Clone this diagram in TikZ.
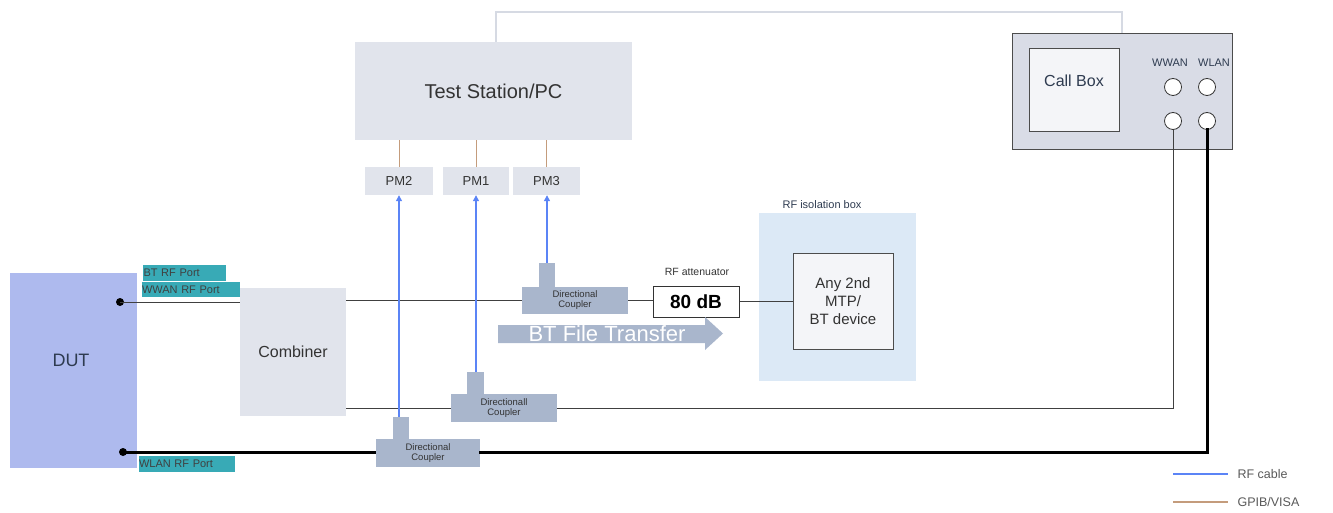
\documentclass[tikz,border=0pt]{standalone}
\usepackage{fontspec}
\setmainfont{Liberation Sans}
\usetikzlibrary{arrows.meta}
\definecolor{boxgray}{HTML}{E1E4EC}
\definecolor{cplr}{HTML}{A9B6CC}
\definecolor{dutblue}{HTML}{AEBAEE}
\definecolor{teal}{HTML}{38AAB6}
\definecolor{isoblue}{HTML}{DCE9F6}
\definecolor{cbgray}{HTML}{D9DCE6}
\definecolor{cbinner}{HTML}{F4F5F8}
\definecolor{gpib}{HTML}{C49C7C}
\definecolor{rfblue}{HTML}{5B84F6}
\definecolor{txt}{HTML}{333333}
\definecolor{slate}{HTML}{2E3B50}
\definecolor{toplink}{HTML}{D6DAE3}
\tikzset{
  graybox/.style={fill=boxgray, draw=none, inner sep=0pt, text=txt},
  cpbody/.style={fill=cplr, draw=none, inner sep=0pt, align=center, font=\fontsize{9.5}{10}\selectfont, text=black!80},
  cpstub/.style={fill=cplr, draw=none, inner sep=0pt},
  portlbl/.style={fill=teal, draw=none, inner sep=0pt, font=\fontsize{11}{11}\selectfont, text=black!75, text depth=0pt},
  cable/.style={draw=black!75, line width=0.8pt},
  thickcable/.style={draw=black, line width=3pt},
  gpibline/.style={draw=gpib, line width=1pt},
  rfline/.style={draw=rfblue, line width=1.2pt, -{Triangle[length=6pt,width=6pt]}},
  port/.style={circle, draw=black!80, fill=white, line width=0.8pt, minimum size=17pt, inner sep=0pt},
}
\begin{document}
\begin{tikzpicture}[x=1pt,y=-1pt]
\useasboundingbox (0,0) rectangle (1333,513);
% boxes
\node[graybox, minimum width=277pt, minimum height=98pt, font=\fontsize{20}{22}\selectfont] (ts) at (493.5,91) {Test Station/PC};
\node[graybox, minimum width=68pt, minimum height=28pt, font=\fontsize{13}{13}\selectfont] (pm2) at (399,181) {PM2};
\node[graybox, minimum width=66pt, minimum height=28pt, font=\fontsize{13}{13}\selectfont] (pm1) at (476,181) {PM1};
\node[graybox, minimum width=67pt, minimum height=28pt, font=\fontsize{13}{13}\selectfont] (pm3) at (546.5,181) {PM3};
\node[graybox, minimum width=106pt, minimum height=128pt, font=\fontsize{16}{18}\selectfont] (comb) at (293,352) {Combiner};
\node[fill=dutblue, draw=none, minimum width=127pt, minimum height=195pt, inner sep=0pt] (dut) at (73.5,370.5) {};
\node[text=slate, font=\fontsize{18}{18}\selectfont] (duttxt) at (71,360) {DUT};
% isolation box
\node[fill=isoblue, draw=none, minimum width=157pt, minimum height=168pt, inner sep=0pt] (iso) at (837.5,297) {};
\node[text=slate, font=\fontsize{11}{12}\selectfont] (isolbl) at (822,205) {RF isolation box};
\node[fill=cbinner, draw=black!70, line width=1pt, minimum width=100pt, minimum height=96pt, inner sep=0pt, align=center, font=\fontsize{15}{18}\selectfont, text=txt] (dev) at (843,301) {Any 2nd\\MTP/\\BT device};
% attenuator
\node[fill=white, draw=black!80, line width=1pt, minimum width=86pt, minimum height=31pt, inner sep=0pt, font=\bfseries\fontsize{19}{20}\selectfont] (att) at (696,301.5) {80 dB};
\node[text=txt, font=\fontsize{10.5}{11}\selectfont] (attlbl) at (697,272) {RF attenuator};
% BT file transfer arrow
\fill[cplr] (498,325) -- (705,325) -- (705,317) -- (723,333.5) -- (705,350) -- (705,343) -- (498,343) -- cycle;
\node[text=white, font=\fontsize{22}{22}\selectfont] (bttxt) at (607,334) {BT File Transfer};
% couplers
\node[cpbody, minimum width=106pt, minimum height=27pt] (c3) at (575,300.5) {Directional\\Coupler};
\node[cpstub, minimum width=16pt, minimum height=24pt] (c3s) at (547,275) {};
\node[cpbody, minimum width=106pt, minimum height=28pt] (c1) at (504,408) {Directionall\\Coupler};
\node[cpstub, minimum width=17pt, minimum height=22pt] (c1s) at (475.5,383) {};
\node[cpbody, minimum width=104pt, minimum height=28pt] (c2) at (428,453) {Directional\\Coupler};
\node[cpstub, minimum width=16pt, minimum height=22pt] (c2s) at (401,428) {};
% port labels
\node[portlbl, minimum width=83pt, minimum height=16pt, text width=82pt, align=left] (btp) at (184.5,273) {BT RF Port};
\node[portlbl, minimum width=98pt, minimum height=15pt, text width=98pt, align=left] (wwp) at (191,289.5) {WWAN RF Port};
\node[portlbl, minimum width=96pt, minimum height=16pt, text width=96pt, align=left] (wlp) at (187,464) {WLAN RF Port};
% call box
\node[fill=cbgray, draw=black!70, line width=1pt, minimum width=220pt, minimum height=116pt, inner sep=0pt] (cb) at (1122,92) {};
\node[fill=cbinner, draw=black!70, line width=1pt, minimum width=90pt, minimum height=83pt, inner sep=0pt] (cbs) at (1074.5,90.5) {};
\node[text=slate, font=\fontsize{16}{16}\selectfont] (cbtxt) at (1074,81) {Call Box};
\node[text=slate, font=\fontsize{11}{11}\selectfont, inner sep=0pt] (wwl) at (1170,63) {WWAN};
\node[text=slate, font=\fontsize{11}{11}\selectfont, inner sep=0pt] (wll) at (1214,63) {WLAN};
\node[port] (p1) at (1173,87) {};
\node[port] (p2) at (1207,87) {};
\node[port] (p3) at (1173,121) {};
\node[port] (p4) at (1207,121) {};
% DUT dots
\fill[black] (120,302) circle (4pt) coordinate (d1);
\fill[black] (123,452) circle (4pt) coordinate (d2);
% top link
\coordinate (tl1) at (496,12);
\coordinate (tl2) at (1122,12);
\draw[toplink, line width=1.2pt] (ts.north -| tl1) -- (tl1) -- (tl2) -- (cb.north);
% cables
\draw[cable] (d1) -- (comb.west |- d1);
\draw[cable] (comb.east |- c3) -- (c3.west);
\draw[cable] (c3.east) -- (att.west |- c3);
\draw[cable] (att.east) -- (dev.west |- att);
\coordinate (wwc) at (1173,408);
\draw[cable] (comb.east |- c1) -- (c1.west);
\draw[cable] (c1.east) -- (wwc) -- (p3.south);
\coordinate (wlc) at (1207,452);
\draw[thickcable] (d2) -- (c2.west |- d2);
\draw[thickcable, line cap=rect] (c2.east |- wlc) -- (wlc) -- (p4.south);
% GPIB lines
\draw[gpibline] (ts.south -| pm2) -- (pm2.north);
\draw[gpibline] (ts.south -| pm1) -- (pm1.north);
\draw[gpibline] (ts.south -| pm3) -- (pm3.north);
% RF lines
\draw[rfline] (c2s.north -| pm2) -- (pm2.south);
\draw[rfline] (c1s.north -| pm1) -- (pm1.south);
\draw[rfline] (c3s.north) -- (pm3.south -| c3s);
% legend
\coordinate (lg1) at (1173,474);
\coordinate (lg2) at (1228,474);
\coordinate (lg3) at (1173,502);
\coordinate (lg4) at (1228,502);
\draw[rfblue, line width=1.5pt] (lg1) -- (lg2);
\draw[gpib, line width=1.5pt] (lg3) -- (lg4);
\node[anchor=west, text=black!65, font=\fontsize{12.5}{13}\selectfont] (lgt1) at (1234,474) {RF cable};
\node[anchor=west, text=black!65, font=\fontsize{12.5}{13}\selectfont] (lgt2) at (1234,502) {GPIB/VISA};
\end{tikzpicture}
\end{document}
